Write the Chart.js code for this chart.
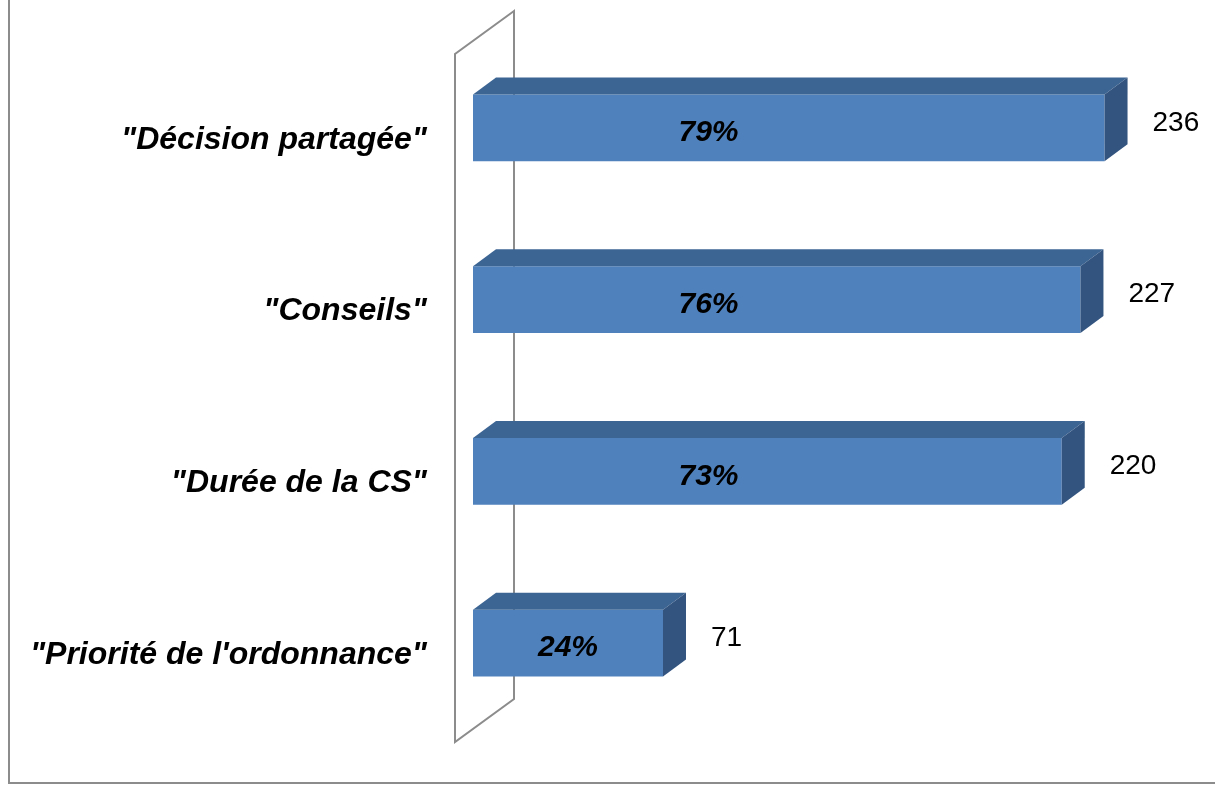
<!DOCTYPE html>
<html lang="fr">
<head>
<meta charset="utf-8">
<title>Décision partagée</title>
<script src="https://cdn.jsdelivr.net/npm/chart.js@4.4.1/dist/chart.umd.min.js"></script>
<style>
  html, body { margin: 0; padding: 0; background: #fff; }
  canvas { display: block; }
</style>
</head>
<body>
<canvas id="bar-chart" width="1215" height="785"></canvas>
<script>
const categories = [
  '"Décision partagée"',
  '"Conseils"',
  '"Durée de la CS"',
  "\"Priorité de l'ordonnance\"",
];
const counts = [236, 227, 220, 71];
const percents = [79, 76, 73, 24];

const FONT = "'Liberation Sans', Arial, sans-serif";
const FRONT = "#4f81bd";
const TOP = "#3d6594";
const SIDE = "#32547f";
const FRAME = "#8c8c8c";

// fake 3d depth of the bars and of the wall
const DX = 23;
const DY = -17;

const frame3d = {
  id: "frame3d",
  beforeDraw(chart) {
    const { ctx, chartArea } = chart;
    ctx.save();
    ctx.strokeStyle = FRAME;
    ctx.lineWidth = 2;

    // outer border (left + bottom only, the rest is cut)
    ctx.beginPath();
    ctx.moveTo(9, 0);
    ctx.lineTo(9, 783);
    ctx.lineTo(1215, 783);
    ctx.stroke();

    // back wall of the category axis
    const fx = chartArea.left - 18;
    const bx = chartArea.left + 41;
    const t = chartArea.top + 12;
    const b = chartArea.bottom + 13;
    ctx.beginPath();
    ctx.moveTo(bx, t - 43);
    ctx.lineTo(fx, t);
    ctx.lineTo(fx, b);
    ctx.lineTo(bx, b - 43);
    ctx.closePath();
    ctx.stroke();
    ctx.restore();
  },
  afterDatasetsDraw(chart) {
    const { ctx } = chart;
    const xScale = chart.scales.x;
    const meta = chart.getDatasetMeta(0);
    ctx.save();
    meta.data.forEach((bar, i) => {
      const x0 = bar.base;
      const x1 = bar.x;
      const yt = bar.y - bar.height / 2;
      const yb = bar.y + bar.height / 2;

      ctx.fillStyle = TOP;
      ctx.beginPath();
      ctx.moveTo(x0, yt);
      ctx.lineTo(x1, yt);
      ctx.lineTo(x1 + DX, yt + DY);
      ctx.lineTo(x0 + DX, yt + DY);
      ctx.closePath();
      ctx.fill();

      ctx.fillStyle = SIDE;
      ctx.beginPath();
      ctx.moveTo(x1, yt);
      ctx.lineTo(x1 + DX, yt + DY);
      ctx.lineTo(x1 + DX, yb + DY);
      ctx.lineTo(x1, yb);
      ctx.closePath();
      ctx.fill();

      // percentage inside the bar
      ctx.fillStyle = "#000";
      ctx.textBaseline = "middle";
      ctx.textAlign = "center";
      ctx.font = "italic bold 30px " + FONT;
      const px = xScale.getPixelForValue(Math.min(counts[i] / 2, 88));
      ctx.fillText(percents[i] + "%", px, bar.y + 5);

      // count to the right of the bar
      ctx.textAlign = "left";
      ctx.font = "28px " + FONT;
      ctx.fillText(String(counts[i]), x1 + DX + 25, bar.y - 5);
    });
    ctx.restore();
  },
};

new Chart(document.getElementById("bar-chart"), {
  type: "bar",
  data: {
    labels: categories,
    datasets: [
      {
        data: counts,
        backgroundColor: FRONT,
        borderWidth: 0,
        categoryPercentage: 1,
        barPercentage: 0.39,
      },
    ],
  },
  options: {
    indexAxis: "y",
    responsive: false,
    animation: false,
    layout: { padding: { left: 0, right: 73, top: 42, bottom: 56 } },
    plugins: {
      legend: { display: false },
      tooltip: { enabled: false },
    },
    scales: {
      x: {
        display: false,
        min: 0,
        max: 250,
      },
      y: {
        afterFit(scale) {
          scale.width = 473;
          // keep the tick padding from eating vertical room
          scale.paddingTop = 0;
          scale.paddingBottom = 0;
        },
        grid: { display: false, drawTicks: false },
        border: { display: false },
        ticks: {
          color: "#000",
          padding: 46,
          labelOffset: 12,
          font: { family: FONT, size: 32, weight: "bold", style: "italic" },
        },
      },
    },
  },
  plugins: [frame3d],
});
</script>
</body>
</html>
